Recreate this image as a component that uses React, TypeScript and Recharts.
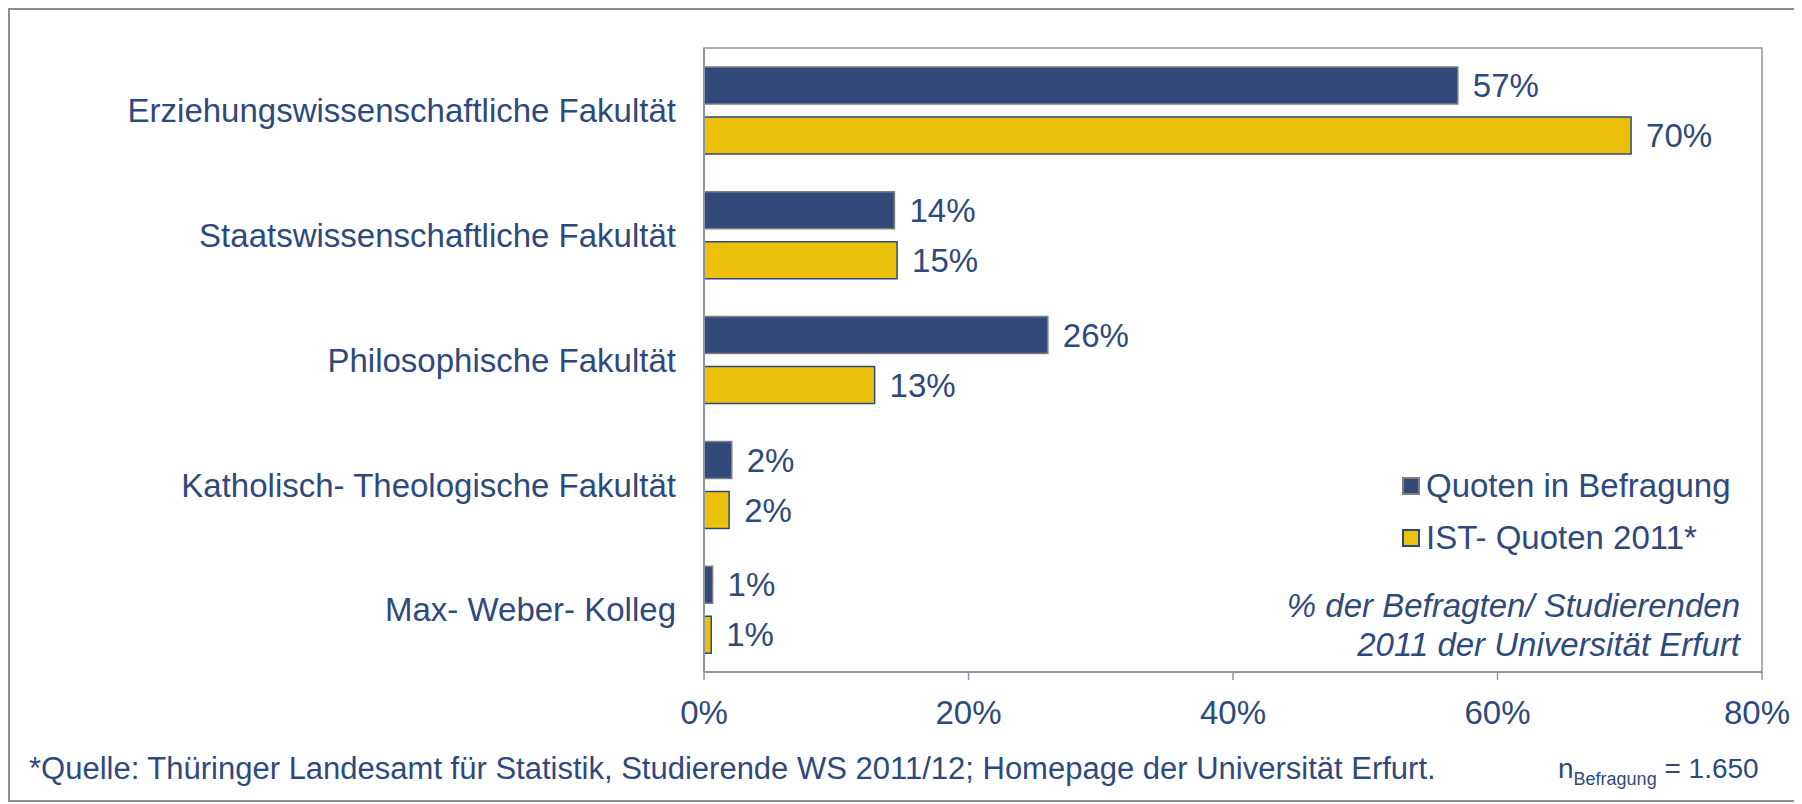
import React from "react"
import {
  Bar,
  BarChart,
  LabelList,
  Legend,
  ReferenceArea,
  XAxis,
  YAxis,
} from "recharts"

const faculties = [
  "Erziehungswissenschaftliche Fakultät",
  "Staatswissenschaftliche Fakultät",
  "Philosophische Fakultät",
  "Katholisch- Theologische Fakultät",
  "Max- Weber- Kolleg",
]
const survey = [57, 14.4, 26, 2.1, 0.65]
const official = [70.1, 14.6, 12.9, 1.9, 0.55]
const seriesNames = ["Quoten in Befragung", "IST- Quoten 2011*"]
const xTicks = [0, 20, 40, 60, 80]
const boundaryTicks = [0, 1, 2, 3, 4, 5]

const textColor = "#2e4a7d"
const blue = "#33497a"
const yellow = "#ebc10b"
const axisColor = "#8d95aa"
const font = "'Liberation Sans', Arial, sans-serif"

const data = faculties.map((name, i) => ({
  name,
  survey: survey[i],
  official: official[i],
}))

const pct = (v: any) => `${Math.round(Number(v))}%`

const LegendBox = ({ payload }: any) => {
  const items = [...(payload || [])].sort(
    (a: any, b: any) => seriesNames.indexOf(a.value) - seriesNames.indexOf(b.value)
  )
  return (
    <div style={{ fontFamily: font, fontSize: 33, color: textColor }}>
      {items.map((item: any, i: number) => (
        <div key={i} style={{ display: "flex", alignItems: "center", height: 52 }}>
          <span
            style={{
              width: 14,
              height: 14,
              background: item.color,
              border: `2px solid ${i === 0 ? "#7f7f7f" : textColor}`,
              marginRight: 6,
            }}
          />
          <span>{item.value}</span>
        </div>
      ))}
    </div>
  )
}

export default function App() {
  return (
    <div
      style={{
        position: "relative",
        width: 1792,
        height: 794,
        border: "2px solid #8e8e8e",
        boxSizing: "border-box",
        fontFamily: font,
        background: "#fff",
      }}
    >
      <div style={{ position: "absolute", left: 0, top: -2 }}>
        <BarChart
          width={1780}
          height={782}
          data={data}
          layout="vertical"
          margin={{ top: 40, right: 28, bottom: 58, left: 0 }}
          barCategoryGap="15%"
          barGap={13}
        >
          <ReferenceArea
            x1={0}
            x2={80}
            fill="none"
            stroke={axisColor}
            strokeWidth={1.5}
            ifOverflow="extendDomain"
          />
          <XAxis
            type="number"
            domain={[0, 80]}
            ticks={xTicks}
            tickFormatter={(v) => `${v}%`}
            height={60}
            tickSize={8}
            tickMargin={21}
            axisLine={{ stroke: axisColor, strokeWidth: 2 }}
            tickLine={{ stroke: axisColor, strokeWidth: 1.5 }}
            tick={{ fill: textColor, fontSize: 33, fontFamily: font }}
          />
          <YAxis
            type="category"
            dataKey="name"
            width={694}
            tickSize={8}
            tickMargin={20}
            tickLine={false}
            axisLine={{ stroke: axisColor, strokeWidth: 2 }}
            tick={{ fill: textColor, fontSize: 33, fontFamily: font }}
          />
          <YAxis
            yAxisId="bounds"
            type="number"
            domain={[0, 5]}
            ticks={boundaryTicks}
            width={0}
            tickSize={8}
            tickFormatter={() => ""}
            axisLine={false}
            tickLine={{ stroke: axisColor, strokeWidth: 1.5 }}
          />
          <Legend
            layout="vertical"
            align="center"
            verticalAlign="middle"
            content={<LegendBox />}
            wrapperStyle={{ left: 1392, top: 452, width: 400 }}
          />
          <Bar
            dataKey="survey"
            name={seriesNames[0]}
            fill={blue}
            stroke="#7f7f7f"
            strokeWidth={1.5}
            barSize={37}
            isAnimationActive={false}
          >
            <LabelList
              dataKey="survey"
              position="right"
              offset={15}
              formatter={pct}
              style={{ fill: textColor, fontSize: 33, fontFamily: font }}
            />
          </Bar>
          <Bar
            dataKey="official"
            name={seriesNames[1]}
            fill={yellow}
            stroke={textColor}
            strokeWidth={1.5}
            barSize={37}
            isAnimationActive={false}
          >
            <LabelList
              dataKey="official"
              position="right"
              offset={15}
              formatter={pct}
              style={{ fill: textColor, fontSize: 33, fontFamily: font }}
            />
          </Bar>
        </BarChart>
      </div>
      <div
        style={{
          position: "absolute",
          left: 0,
          width: 1730,
          top: 576,
          textAlign: "right",
          fontStyle: "italic",
          fontSize: 33,
          lineHeight: "39px",
          color: textColor,
        }}
      >
        % der Befragten/ Studierenden
        <br />
        2011 der Universität Erfurt
      </div>
      <div
        style={{
          position: "absolute",
          left: 19,
          top: 742,
          fontSize: 31,
          lineHeight: "34px",
          color: textColor,
          whiteSpace: "nowrap",
        }}
      >
        *Quelle: Thüringer Landesamt für Statistik, Studierende WS 2011/12; Homepage der Universität Erfurt.
      </div>
      <div
        style={{
          position: "absolute",
          left: 1548,
          top: 742,
          fontSize: 28,
          lineHeight: "34px",
          color: textColor,
          whiteSpace: "nowrap",
        }}
      >
        n<sub style={{ fontSize: 18 }}>Befragung</sub> = 1.650
      </div>
    </div>
  )
}
